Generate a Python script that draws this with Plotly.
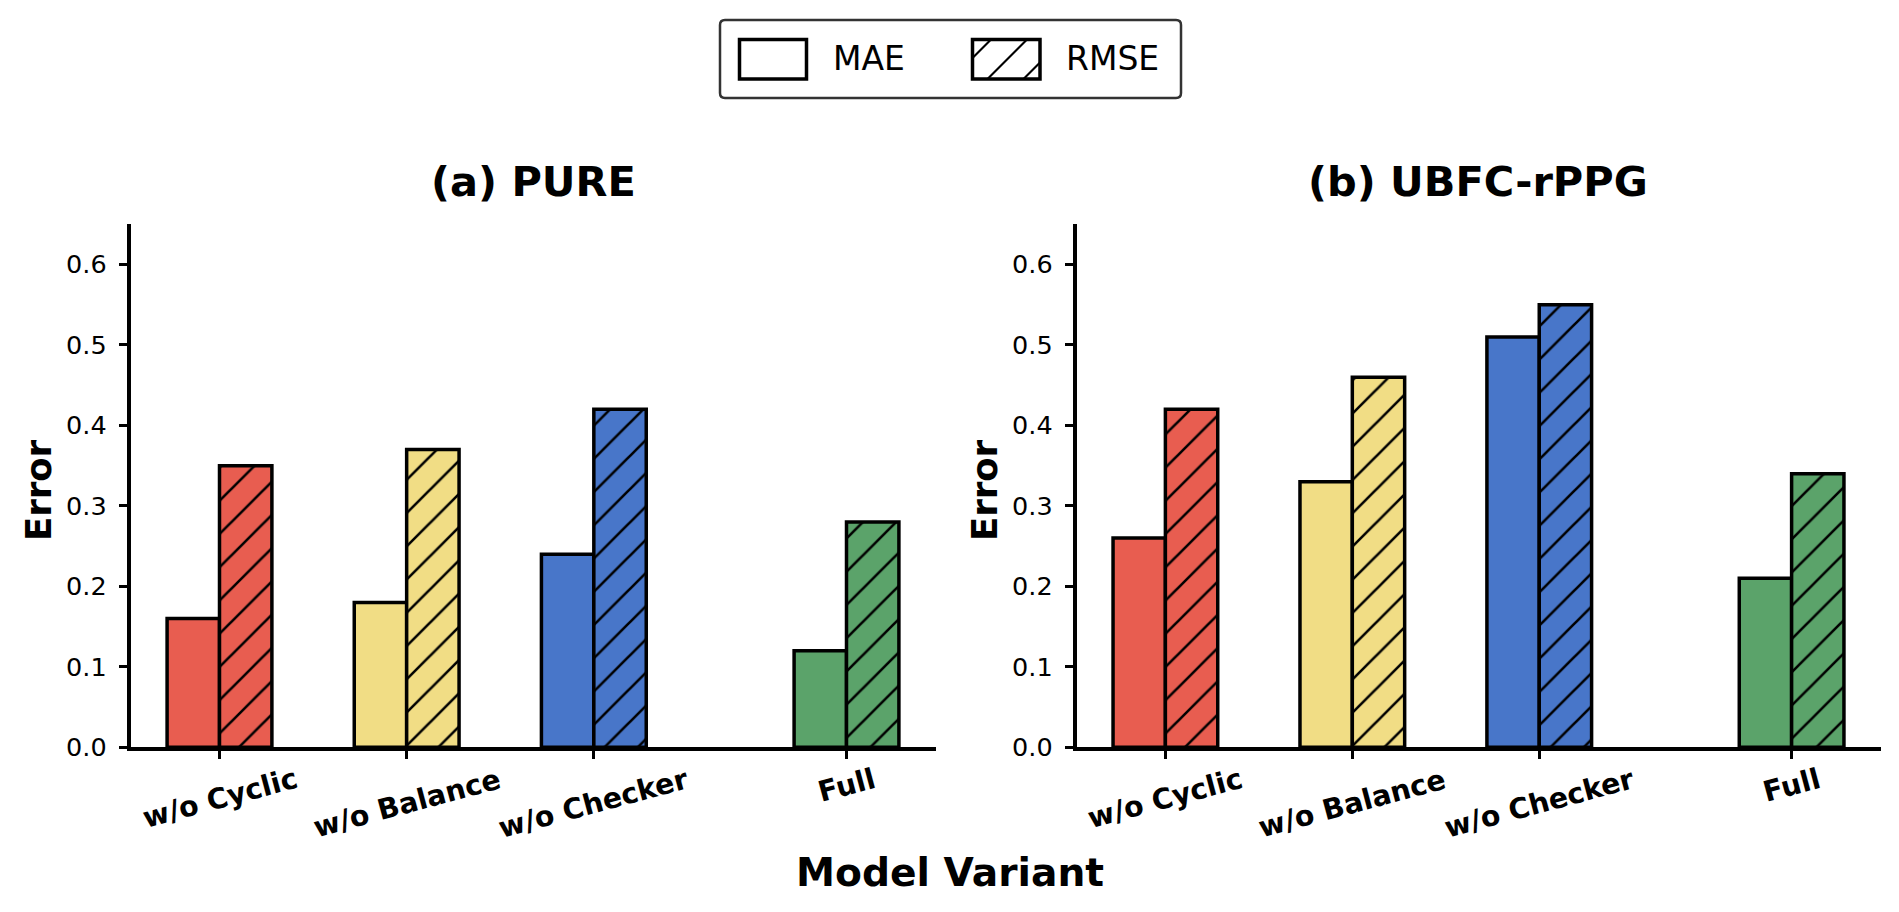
import plotly.graph_objects as go

# ---------------- data ----------------
categories = ["w/o Cyclic", "w/o Balance", "w/o Checker", "Full"]
positions = [0, 1, 2, 3.35]
colors = ["#E85D50", "#F1DD85", "#4876C9", "#5BA36A"]

pure_mae = [0.16, 0.18, 0.24, 0.12]
pure_rmse = [0.35, 0.37, 0.42, 0.28]
ubfc_mae = [0.26, 0.33, 0.51, 0.21]
ubfc_rmse = [0.42, 0.46, 0.55, 0.34]

panel_titles = ["(a) PURE", "(b) UBFC-rPPG"]
y_ticks = [0.0, 0.1, 0.2, 0.3, 0.4, 0.5, 0.6]

# ---------------- geometry helpers ----------------
W, H = 1899, 912
HEFF = 896  # effective drawing height observed in the viewer
FONT = "DejaVu Sans"
BAR_W = 0.28


def px(x):
    return x / W


def py(y):
    return 1 - y / HEFF


x_dom = [[px(130.5), px(935.5)], [px(1076.5), px(1880.5)]]
y_dom = [py(746.5), py(224)]
x_range = [-BAR_W - 0.1955, positions[-1] + BAR_W + 0.1955]

fig = go.Figure()

panels = [(pure_mae, pure_rmse), (ubfc_mae, ubfc_rmse)]
for i, (mae, rmse) in enumerate(panels):
    xa = "x" if i == 0 else "x2"
    ya = "y" if i == 0 else "y2"
    for j in range(len(categories)):
        fig.add_trace(go.Bar(
            x=[positions[j]], y=[mae[j]], width=BAR_W, offset=-BAR_W,
            marker=dict(color=colors[j], line=dict(color="black", width=3.5)),
            xaxis=xa, yaxis=ya, showlegend=False, name="MAE",
        ))
        fig.add_trace(go.Bar(
            x=[positions[j]], y=[rmse[j]], width=BAR_W, offset=0,
            marker=dict(color=colors[j], line=dict(color="black", width=3.5),
                        pattern=dict(shape="/", fgcolor="black", bgcolor=colors[j],
                                     fgopacity=1, size=23.5, solidity=0.11)),
            xaxis=xa, yaxis=ya, showlegend=False, name="RMSE",
        ))

axis_common = dict(showline=True, linecolor="black", linewidth=3.5, mirror=False,
                   showgrid=False, zeroline=False, ticks="outside", ticklen=8,
                   tickwidth=2.5, tickcolor="black")

for i in range(2):
    sfx = "" if i == 0 else "2"
    fig.layout["xaxis" + sfx] = dict(
        domain=x_dom[i], range=x_range, anchor="y" + sfx,
        tickvals=positions, showticklabels=False, **axis_common)
    fig.layout["yaxis" + sfx] = dict(
        domain=y_dom, range=[0, 0.65], anchor="x" + sfx,
        tickvals=y_ticks, tickformat=".1f", ticklabelstandoff=7,
        tickfont=dict(family=FONT, size=25.5, color="black"), **axis_common)

annotations = []
shapes = []

# panel titles, y titles, category labels
for i in range(2):
    cx = (x_dom[i][0] + x_dom[i][1]) / 2
    annotations.append(dict(
        text="<b>" + panel_titles[i] + "</b>", x=cx, y=py(181.5), xref="paper", yref="paper",
        xanchor="center", yanchor="middle", showarrow=False,
        font=dict(family=FONT, size=41.5, color="black")))
    annotations.append(dict(
        text="<b>Error</b>", x=x_dom[i][0] - px(92), y=py(490), xref="paper", yref="paper",
        xanchor="center", yanchor="middle", showarrow=False, textangle=-90,
        font=dict(family=FONT, size=35.5, color="black")))
    xa = "x" if i == 0 else "x2"
    for pos, cat in zip(positions, categories):
        annotations.append(dict(
            text="<b>" + cat + "</b>", x=pos, y=py(759), xref=xa, yref="paper",
            xanchor="center", yanchor="top", showarrow=False, textangle=-15,
            font=dict(family=FONT, size=28.4, color="black")))

annotations.append(dict(
    text="<b>Model Variant</b>", x=px(949.5), y=py(871.5), xref="paper", yref="paper",
    xanchor="center", yanchor="middle", showarrow=False,
    font=dict(family=FONT, size=39.2, color="black")))

# ---------------- legend (drawn) ----------------
lx0, lx1, ly0, ly1, r = 720, 1181, 20, 98, 5
path = (f"M{px(lx0 + r)},{py(ly0)} L{px(lx1 - r)},{py(ly0)} "
        f"Q{px(lx1)},{py(ly0)} {px(lx1)},{py(ly0 + r)} "
        f"L{px(lx1)},{py(ly1 - r)} Q{px(lx1)},{py(ly1)} {px(lx1 - r)},{py(ly1)} "
        f"L{px(lx0 + r)},{py(ly1)} Q{px(lx0)},{py(ly1)} {px(lx0)},{py(ly1 - r)} "
        f"L{px(lx0)},{py(ly0 + r)} Q{px(lx0)},{py(ly0)} {px(lx0 + r)},{py(ly0)} Z")
shapes.append(dict(type="path", path=path, xref="paper", yref="paper",
                   line=dict(color="#333333", width=2.5), fillcolor="white", layer="above"))

sy0, sy1 = 39.5, 79
for sx0, sx1 in [(739.5, 806.5), (972.5, 1040)]:
    shapes.append(dict(type="rect", x0=px(sx0), x1=px(sx1), y0=py(sy1), y1=py(sy0),
                       xref="paper", yref="paper", line=dict(color="black", width=3.5),
                       fillcolor="white", layer="above"))
# hatch in RMSE swatch: lines x + y = c (pixel coords)
sx0, sx1 = 972.5, 1040
for c in [1030.5, 1066.5, 1102.5]:
    xa0 = max(sx0, c - sy1)
    xa1 = min(sx1, c - sy0)
    shapes.append(dict(type="line", x0=px(xa0), y0=py(c - xa0), x1=px(xa1), y1=py(c - xa1),
                       xref="paper", yref="paper", line=dict(color="black", width=2.2),
                       layer="above"))

annotations.append(dict(text="MAE", x=px(831), y=py(58), xref="paper", yref="paper",
                        xanchor="left", yanchor="middle", showarrow=False,
                        font=dict(family=FONT, size=33, color="black")))
annotations.append(dict(text="RMSE", x=px(1064), y=py(58), xref="paper", yref="paper",
                        xanchor="left", yanchor="middle", showarrow=False,
                        font=dict(family=FONT, size=33, color="black")))

fig.update_layout(
    width=W, height=H, margin=dict(l=0, r=0, t=0, b=0),
    paper_bgcolor="white", plot_bgcolor="white",
    annotations=annotations, shapes=shapes, showlegend=False,
    font=dict(family=FONT, color="black"), barmode="overlay",
)

fig.write_html("out.html")
